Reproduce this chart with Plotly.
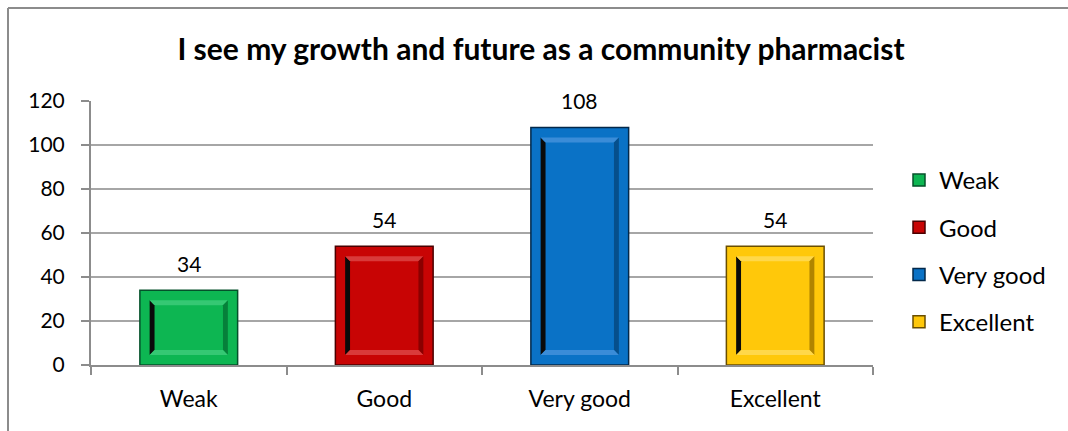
import plotly.graph_objects as go

categories = ["Weak", "Good", "Very good", "Excellent"]
values = [34, 54, 108, 54]
bar_colors = ["#0DB652", "#C80404", "#0A72C6", "#FFC80A"]
dark_colors = ["#04502A", "#4A0000", "#03284A", "#6A4E00"]
light_colors = ["#35C873", "#D93A3A", "#3A8CD8", "#FFD84A"]
shade_colors = ["#06803A", "#8A0000", "#054F8C", "#B08400"]
y_ticks = [0, 20, 40, 60, 80, 100, 120]

FONT = "Lato"
x_pos = list(range(len(categories)))

fig = go.Figure()
for i, (cat, val) in enumerate(zip(categories, values)):
    fig.add_trace(go.Bar(
        x=[x_pos[i]], y=[val], name=cat, width=0.5,
        marker=dict(color=bar_colors[i], line=dict(color=dark_colors[i], width=1.5)),
        legendgroup=cat,
    ))

# bevelled inner frame on each bar, built from the bar values
shapes = []
px_per_unit = 264 / 120
for i, val in enumerate(values):
    x0, x1 = x_pos[i] - 0.25, x_pos[i] + 0.25
    ox, oy = 0.05, 10 / px_per_unit          # outer band
    bx, by = 0.025, 5 / px_per_unit          # bevel width
    ax0, ax1, ay0, ay1 = x0 + ox, x1 - ox, oy, val - oy
    bx0, bx1, by0, by1 = ax0 + bx, ax1 - bx, ay0 + by, ay1 - by

    def quad(pts, color):
        p = "M" + " L".join(f"{a},{b}" for a, b in pts) + " Z"
        return dict(type="path", path=p, xref="x", yref="y",
                    fillcolor=color, line=dict(width=0), layer="above")
    shapes.append(quad([(ax0, ay0), (bx0, by0), (bx0, by1), (ax0, ay1)], "#0A0A0A"))
    shapes.append(quad([(ax0, ay1), (bx0, by1), (bx1, by1), (ax1, ay1)], light_colors[i]))
    shapes.append(quad([(ax1, ay1), (bx1, by1), (bx1, by0), (ax1, ay0)], shade_colors[i]))
    shapes.append(quad([(ax0, ay0), (bx0, by0), (bx1, by0), (ax1, ay0)], light_colors[i]))

# chart frame (top and left edges)
fx = (8 - 91) / 782
fy = (365 - 8) / 264
shapes.append(dict(type="line", xref="paper", yref="paper", x0=fx, x1=1.3, y0=fy, y1=fy,
                   line=dict(color="#8C8C8C", width=2)))
shapes.append(dict(type="line", xref="paper", yref="paper", x0=fx, x1=fx, y0=fy, y1=-0.3,
                   line=dict(color="#8C8C8C", width=2)))

annotations = [
    dict(x=x_pos[i], y=v, text=str(v), showarrow=False, xref="x", yref="y",
         yanchor="middle", yshift=27, font=dict(family=FONT, size=21, color="black"))
    for i, v in enumerate(values)
]

fig.update_layout(
    width=1068, height=431,
    margin=dict(l=91, r=195, t=101, b=66),
    paper_bgcolor="white", plot_bgcolor="white",
    barmode="overlay",
    title=dict(text="<b>I see my growth and future as a community pharmacist</b>",
               x=541 / 1068, xanchor="center", y=1 - 49 / 431, yanchor="middle",
               font=dict(family=FONT, size=30, color="black")),
    font=dict(family=FONT, size=21, color="black"),
    showlegend=True,
    legend=dict(x=(899 - 91) / 782, xanchor="left", y=(365 - 251) / 264, yanchor="middle",
                font=dict(family=FONT, size=24, color="black"),
                tracegroupgap=13, bgcolor="rgba(0,0,0,0)"),
    shapes=shapes,
    annotations=annotations,
    xaxis=dict(range=[-0.5, 3.5], tickvals=x_pos, ticktext=categories, ticks="",
               showline=True, linecolor="#8C8C8C", linewidth=2, showgrid=False,
               zeroline=False, tickfont=dict(size=23), ticklabelstandoff=12,
               minor=dict(tickvals=[-0.5, 0.5, 1.5, 2.5, 3.5], ticks="outside",
                          ticklen=8, tickcolor="#8C8C8C", tickwidth=2)),
    yaxis=dict(range=[0, 120], tickvals=y_ticks, ticks="outside", ticklen=8,
               tickcolor="#8C8C8C", tickwidth=2, showline=True, linecolor="#8C8C8C",
               linewidth=2, showgrid=True, gridcolor="#A6A6A6", gridwidth=2,
               zeroline=False, tickfont=dict(size=21), ticklabelstandoff=12),
)

fig.write_html("out.html")
